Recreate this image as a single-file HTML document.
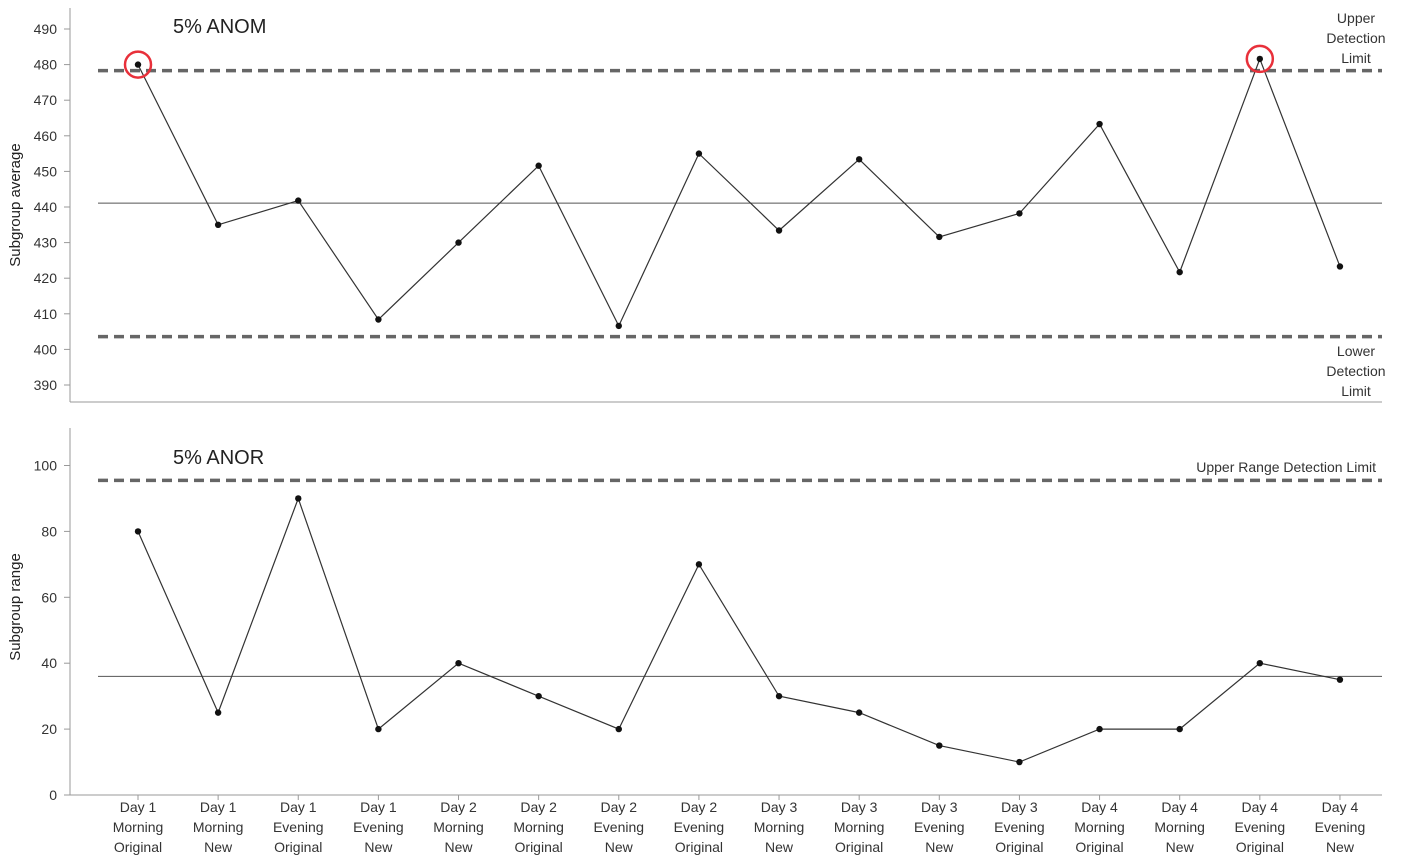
<!DOCTYPE html>
<html><head><meta charset="utf-8"><style>
html,body{margin:0;padding:0;background:#fff;}
svg{display:block;font-family:"Liberation Sans",sans-serif;}
</style></head><body>
<svg id="c" width="1404" height="864"></svg>
<script>
const categories=[["Day 1","Morning","Original"],["Day 1","Morning","New"],["Day 1","Evening","Original"],["Day 1","Evening","New"],["Day 2","Morning","New"],["Day 2","Morning","Original"],["Day 2","Evening","New"],["Day 2","Evening","Original"],["Day 3","Morning","New"],["Day 3","Morning","Original"],["Day 3","Evening","New"],["Day 3","Evening","Original"],["Day 4","Morning","Original"],["Day 4","Morning","New"],["Day 4","Evening","Original"],["Day 4","Evening","New"]];
const avgValues=[480,435,441.8,408.4,430,451.6,406.6,455,433.4,453.4,431.6,438.2,463.3,421.7,481.6,423.3];
const rangeValues=[80,25,90,20,40,30,20,70,30,25,15,10,20,20,40,35];
const avgTicks=[390,400,410,420,430,440,450,460,470,480,490];
const rangeTicks=[0,20,40,60,80,100];
const avgLimits={upper:478.3,center:441.1,lower:403.6};
const rangeLimits={upper:95.5,center:36};
const flagged=[0,14];

const NS="http://www.w3.org/2000/svg";
const svg=document.getElementById('c');
function el(t,a,txt){const e=document.createElementNS(NS,t);for(const k in a)e.setAttribute(k,a[k]);if(txt!=null)e.textContent=txt;svg.appendChild(e);return e;}
const xOf=i=>138+i*80.13;
const yTop=v=>29+(490-v)*3.56;
const yBot=v=>795-v*3.295;

function panel(yf,vals,ticks,lim,axTop,axBot,title,ytitle,ytitleY,pname){
  let a=el('line',{x1:70,y1:axTop,x2:70,y2:axBot,stroke:'#999','stroke-width':1});
  
  a=el('line',{x1:70,y1:axBot,x2:1382,y2:axBot,stroke:'#999','stroke-width':1});
  
  ticks.forEach(t=>{
    const l=el('line',{x1:64,y1:yf(t),x2:70,y2:yf(t),stroke:'#999'});
    
    const tx=el('text',{x:57,y:yf(t)+5,'text-anchor':'end','font-size':14,fill:'#333'},t);
    
  });
  const yt=el('text',{x:0,y:0,transform:`translate(20,${ytitleY}) rotate(-90)`,'text-anchor':'middle','font-size':15,fill:'#222'},ytitle);
  
  const ti=el('text',{x:173,y:pname==='anom'?33:464,'font-size':20,fill:'#222'},title);
  
  const c=el('line',{x1:98,y1:yf(lim.center),x2:1382,y2:yf(lim.center),stroke:'#555','stroke-width':1});
  
  const u=el('line',{x1:98,y1:yf(lim.upper),x2:1382,y2:yf(lim.upper),stroke:'#666','stroke-width':3.5,'stroke-dasharray':'10 6'});
  
  if(lim.lower!=null){
    const lo=el('line',{x1:98,y1:yf(lim.lower),x2:1382,y2:yf(lim.lower),stroke:'#666','stroke-width':3.5,'stroke-dasharray':'10 6'});
    
  }
  const p=el('polyline',{points:vals.map((v,i)=>xOf(i)+','+yf(v)).join(' '),fill:'none',stroke:'#333','stroke-width':1.2});
  
  vals.forEach((v,i)=>{
    const d=el('circle',{cx:xOf(i),cy:yf(v),r:3.2,fill:'#111'});
    
  });
}
panel(yTop,avgValues,avgTicks,avgLimits,8,402,'5% ANOM','Subgroup average',205,'anom');
panel(yBot,rangeValues,rangeTicks,rangeLimits,428,795,'5% ANOR','Subgroup range',607,'anor');

flagged.forEach(i=>{
  const r=el('circle',{cx:xOf(i),cy:yTop(avgValues[i]),r:13,fill:'none',stroke:'#e8303a','stroke-width':2.5});
  
});

[["Upper",18],["Detection",38],["Limit",58]].forEach(([t,y])=>{
  const e=el('text',{x:1356,y:y+5,'text-anchor':'middle','font-size':14,fill:'#333'},t);
  
});
[["Lower",351],["Detection",371],["Limit",391]].forEach(([t,y])=>{
  const e=el('text',{x:1356,y:y+5,'text-anchor':'middle','font-size':14,fill:'#333'},t);
  
});
const ur=el('text',{x:1376,y:472,'text-anchor':'end','font-size':14,fill:'#333'},'Upper Range Detection Limit');


categories.forEach((c,i)=>{
  const tk=el('line',{x1:xOf(i),y1:795,x2:xOf(i),y2:800,stroke:'#999'});
  
  c.forEach((s,j)=>{
    const t=el('text',{x:xOf(i),y:812+j*20,'text-anchor':'middle','font-size':14,fill:'#333'},s);
    
  });
});
</script>
</body></html>
